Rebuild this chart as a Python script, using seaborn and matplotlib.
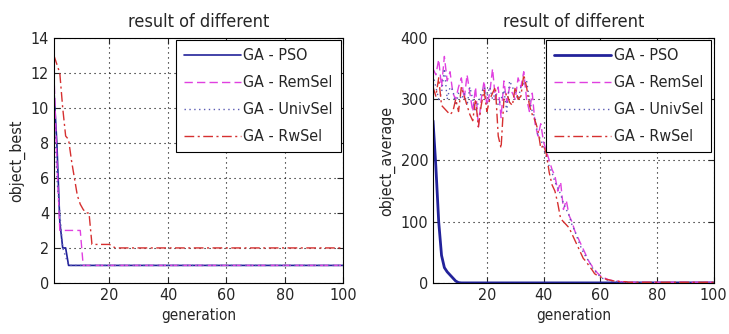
import numpy as np
import pandas as pd
import matplotlib
matplotlib.use("Agg")
import matplotlib.pyplot as plt
import seaborn as sns

# ---- data ----
generations = list(range(1, 101))
methods = ["GA - PSO", "GA - RemSel", "GA - UnivSel", "GA - RwSel"]

best_pso = [11, 8, 3.5, 2, 2] + [1] * 95
best_remsel = [12, 7, 3, 3, 3, 3, 3, 3, 3, 3] + [1] * 90
best_univsel = [10, 6, 4, 2, 1.5] + [1] * 95
best_rwsel = [13, 12.5, 12, 10, 8.4, 8.2, 7, 6, 5, 4.5,
              4.2, 4, 4, 2.2, 2.2, 2.2, 2.2, 2.2, 2.2, 2.2,
              2.1] + [2] * 79

avg_pso = [265, 190, 100, 45, 25, 18, 13, 8, 3, 0.5] + [0] * 90
avg_remsel = [350, 340, 365, 320, 370, 330, 345, 310, 300, 320,
              335, 300, 340, 310, 280, 320, 255, 300, 330, 290,
              310, 350, 300, 320, 270, 330, 295, 320, 310, 300,
              335, 320, 345, 300, 280, 310, 260, 240, 260, 230,
              215, 200, 185, 175, 150, 165, 120, 135, 110, 100,
              85, 75, 65, 55, 45, 35, 28, 22, 16, 12,
              9, 7, 5, 4, 3, 3, 2, 2, 1, 1] + [1] * 30
avg_univsel = [340, 320, 300, 310, 350, 300, 320, 315, 290, 310,
               300, 310, 290, 320, 300, 280, 295, 310, 320, 305,
               320, 300, 310, 290, 300, 315, 280, 330, 320, 310,
               300, 320, 325, 330, 300, 280, 270, 240, 235, 220,
               205, 190, 180, 165, 155, 145, 130, 120, 110, 95,
               85, 72, 60, 50, 42, 35, 26, 20, 15, 10,
               7, 5, 4, 3, 2, 2, 1, 1, 1, 0] + [0] * 30
avg_rwsel = [320, 305, 335, 290, 285, 280, 275, 280, 300, 280,
             320, 305, 290, 275, 265, 300, 255, 290, 315, 280,
             300, 310, 320, 240, 220, 300, 310, 295, 290, 320,
             300, 305, 340, 320, 290, 275, 265, 250, 220, 225,
             210, 180, 160, 150, 130, 105, 100, 95, 90, 80,
             70, 60, 50, 40, 35, 28, 22, 15, 12, 10,
             8, 6, 5, 4, 3, 3, 2, 2, 2, 1] + [1] * 30

colors = ["#22229a", "#e040e0", "#5a5ab4", "#d63030"]
styles = ["-", (0, (6, 3)), (0, (1, 2.5)), (0, (7, 2.5, 1.5, 2.5))]
widths = [1.2, 1.0, 1.0, 1.0]

sns.set_style("ticks", {"xtick.direction": "in", "ytick.direction": "in"})
plt.rcParams["font.family"] = ["DejaVu Sans"]
plt.rcParams["font.stretch"] = "condensed"


def draw(ax, series, ylabel, ylim, yticks, pso_width):
    for i, (name, vals) in enumerate(zip(methods, series)):
        lw = pso_width if i == 0 else widths[i]
        sns.lineplot(x=generations, y=vals, ax=ax, color=colors[i],
                     linestyle=styles[i], linewidth=lw, label=name)
    ax.set_xlim(1, 100)
    ax.set_ylim(*ylim)
    ax.set_xticks([20, 40, 60, 80, 100])
    ax.set_yticks(yticks)
    ax.grid(True, color="black", linestyle=(0, (1, 3.5)), linewidth=0.8)
    ax.tick_params(top=True, right=True, labelsize=11.5, length=4)
    for s in ax.spines.values():
        s.set_color("black")
        s.set_linewidth(0.8)
    ax.set_title("result of different", fontsize=13, pad=8)
    ax.set_xlabel("generation", fontsize=11)
    ax.set_ylabel(ylabel, fontsize=11.5)
    leg = ax.legend(loc="upper right", fontsize=11.5, handlelength=3.6,
                    handletextpad=0.15, borderaxespad=0.15, fancybox=False,
                    framealpha=1, labelspacing=0.75, borderpad=0.5)
    leg.get_frame().set_edgecolor("black")
    leg.get_frame().set_linewidth(0.8)


fig = plt.figure(figsize=(7.29, 3.34), dpi=100)
ax1 = fig.add_axes([0.074, 0.153, 0.397, 0.733])
ax2 = fig.add_axes([0.594, 0.153, 0.385, 0.733])

draw(ax1, [best_pso, best_remsel, best_univsel, best_rwsel],
     "object_best", (0, 14), list(range(0, 15, 2)), 1.2)
draw(ax2, [avg_pso, avg_remsel, avg_univsel, avg_rwsel],
     "object_average", (0, 400), [0, 100, 200, 300, 400], 2.0)

fig.savefig("out.png", dpi=100)
plt.close(fig)
